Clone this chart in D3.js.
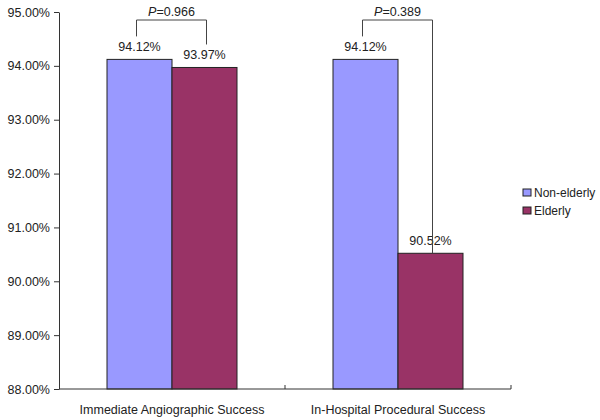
<!DOCTYPE html>
<html><head><meta charset="utf-8">
<script src="https://cdn.jsdelivr.net/npm/d3@7"></script>
<style>body{margin:0;background:#fff}svg{display:block}text{font-family:"Liberation Sans",Arial,sans-serif;fill:#222}</style>
</head><body><svg id="c" width="600" height="420"></svg>
<script>
const categories = ["Immediate Angiographic Success", "In-Hospital Procedural Success"];
const seriesNames = ["Non-elderly", "Elderly"];
const nonElderly = [94.12, 94.12];
const elderly = [93.97, 90.52];
const pValues = ["0.966", "0.389"];
const yTicks = [88, 89, 90, 91, 92, 93, 94, 95];
const colors = ["#9999FF", "#993366"];

(function () {
const svg = d3.select("#c");
const mLeft = 59, mRight = 511, mTop = 12, mBottom = 389;
const x = d3.scaleBand().domain(categories).range([mLeft, mRight]).paddingInner(0).paddingOuter(0);
const y = d3.scaleLinear().domain([88, 95]).range([mBottom, mTop]);
const bw = 65;
const xs = d3.scaleBand().domain(seriesNames).range([0, bw * 2]);
const fmt = v => v.toFixed(2) + "%";

// y axis
const ya = svg.append("g").attr("transform", `translate(${mLeft},0)`)
  .call(d3.axisLeft(y).tickValues(yTicks).tickFormat(d => d.toFixed(2) + "%").tickSize(5).tickSizeOuter(0));
ya.select(".domain").attr("stroke", "#333");
ya.selectAll(".tick line").attr("stroke", "#333");
ya.selectAll(".tick text").attr("font-size", 12.5).attr("fill", "#222").attr("x", -9)
  .style("font-family", '"Liberation Sans",Arial,sans-serif');

// bars
const data = categories.map((c, i) => ({c, vals: [nonElderly[i], elderly[i]]}));
const g = svg.append("g");
data.forEach((d, i) => {
  const cx = x(d.c) + x.bandwidth() / 2;
  const x0 = cx - bw;
  d.vals.forEach((v, j) => {
    const bx = x0 + xs(seriesNames[j]);
    g.append("rect").attr("x", bx).attr("y", y(v)).attr("width", xs.bandwidth()).attr("height", y(88) - y(v))
      .attr("fill", colors[j]).attr("stroke", "#222").attr("stroke-width", 1);
  });
});

// x axis
const xa = svg.append("g").attr("transform", `translate(0,${mBottom})`);
xa.append("line").attr("x1", mLeft).attr("x2", mRight).attr("y1", 0).attr("y2", 0).attr("stroke", "#333");
[x(categories[1]), mRight].forEach(t => xa.append("line").attr("x1", t).attr("x2", t).attr("y1", 0).attr("y2", -4).attr("stroke", "#333"));
categories.forEach(c => xa.append("text").attr("x", x(c) + x.bandwidth() / 2).attr("y", 25)
  .attr("text-anchor", "middle").attr("font-size", 12.5).text(c));

// value labels and brackets
data.forEach((d, i) => {
  const cx = x(d.c) + x.bandwidth() / 2;
  const x0 = cx - bw;
  d.vals.forEach((v, j) => {
    const bcx = x0 + xs(seriesNames[j]) + xs.bandwidth() / 2;
    svg.append("text").attr("x", bcx).attr("y", y(v) - 8).attr("text-anchor", "middle").attr("font-size", 12.5).text(fmt(v));
  });
  const lx = x0 + xs.bandwidth() / 2 - 3;
  const rx = x0 + xs.bandwidth() * 1.5 + 2;
  const topY = 20;
  const ly = y(d.vals[0]) - 23;
  const ry = i === 0 ? y(d.vals[1]) - 23 : y(d.vals[1]);
  svg.append("path").attr("d", `M${lx},${ly}V${topY}H${rx}V${ry}`).attr("fill", "none").attr("stroke", "#444").attr("stroke-width", 1);
  const t = svg.append("text").attr("x", (lx + rx) / 2).attr("y", 16).attr("text-anchor", "middle").attr("font-size", 12.5);
  t.append("tspan").attr("font-style", "italic").text("P");
  t.append("tspan").text("=" + pValues[i]);
});

// legend
const lg = svg.append("g").attr("transform", "translate(523,189)");
seriesNames.forEach((s, j) => {
  lg.append("rect").attr("x", 0).attr("y", j * 18).attr("width", 8).attr("height", 7).attr("fill", colors[j]).attr("stroke", "#222");
  lg.append("text").attr("x", 11).attr("y", j * 18 + 8).attr("font-size", 12).text(s);
});
})();
</script></body></html>
